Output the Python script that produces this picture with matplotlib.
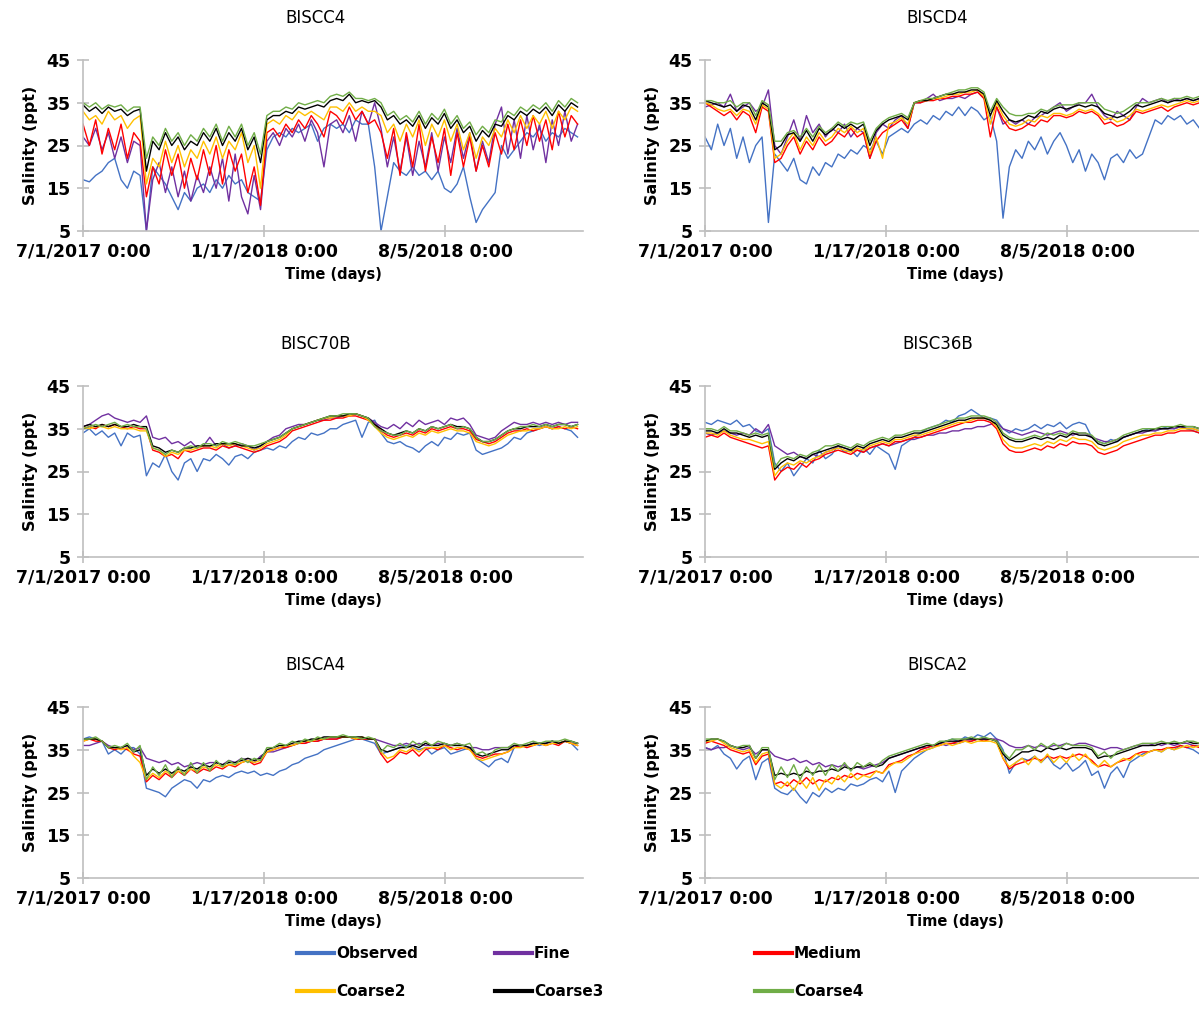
import matplotlib
matplotlib.use("Agg")
import matplotlib.pyplot as plt
from matplotlib.lines import Line2D

# days since 7/1/2017 0:00 (weekly samples)
days = [0, 7, 14, 21, 28, 35, 42, 49, 56, 63,
        70, 77, 84, 91, 98, 105, 112, 119, 126, 133,
        140, 147, 154, 161, 168, 175, 182, 189, 196, 203,
        210, 217, 224, 231, 238, 245, 252, 259, 266, 273,
        280, 287, 294, 301, 308, 315, 322, 329, 336, 343,
        350, 357, 364, 371, 378, 385, 392, 399, 406, 413,
        420, 427, 434, 441, 448, 455, 462, 469, 476, 483,
        490, 497, 504, 511, 518, 525, 532, 539, 546]

tick_days = [0, 200, 400]
tick_labels = ["7/1/2017 0:00", "1/17/2018 0:00", "8/5/2018 0:00"]

series_names = ["Observed", "Fine", "Medium", "Coarse2", "Coarse3", "Coarse4"]
colors = ["#4472C4", "#7030A0", "#FF0000", "#FFC000", "#000000", "#70AD47"]

# ---- BISCC4 ----
c4_obs = [17, 16.5, 18, 19, 21, 22, 17, 15, 19, 18,
          5, 20, 18, 16, 13, 10, 14, 12, 15, 16,
          14, 17, 15, 18, 16, 17, 14, 13, 12, 24,
          27, 28, 27, 29, 28, 29, 30, 26, 29, 30,
          29, 30, 28, 31, 30, 30, 20, 5, 13, 21,
          19, 18, 20, 18, 19, 17, 19, 15, 14, 16,
          20, 13, 7, 10, 12, 14, 25, 22, 24, 26,
          28, 27, 29, 26, 28, 27, 29, 28, 27]
c4_fine = [27, 25, 29, 24, 28, 22, 27, 21, 26, 25,
           5, 17, 21, 14, 20, 13, 19, 12, 18, 14,
           20, 15, 22, 12, 23, 13, 9, 18, 10, 26,
           28, 25, 29, 27, 30, 26, 31, 28, 20, 30,
           31, 28, 32, 26, 33, 30, 35, 29, 20, 27,
           19, 27, 18, 26, 20, 28, 19, 27, 21, 29,
           22, 28, 19, 26, 21, 30, 34, 23, 31, 22,
           32, 24, 30, 21, 31, 25, 33, 26, 30]
c4_med = [30, 25, 31, 23, 29, 24, 30, 22, 28, 26,
          13, 20, 16, 24, 18, 23, 15, 22, 17, 24,
          18, 25, 16, 24, 19, 23, 14, 20, 11, 28,
          29, 27, 30, 28, 31, 29, 32, 30, 27, 33,
          32, 30, 34, 31, 33, 30, 31, 28, 22, 29,
          18, 28, 20, 30, 19, 27, 21, 29, 18, 28,
          20, 27, 19, 25, 20, 28, 23, 30, 24, 31,
          25, 32, 26, 31, 24, 33, 27, 32, 30]
c4_c2 = [33, 31, 32, 30, 33, 31, 32, 29, 31, 32,
         16, 22, 20, 26, 21, 25, 20, 24, 22, 26,
         23, 27, 22, 26, 24, 28, 21, 25, 15, 30,
         31, 30, 32, 31, 33, 32, 33, 32, 31, 34,
         34, 33, 35, 33, 34, 33, 33, 32, 28, 30,
         26, 30, 27, 31, 25, 30, 27, 31, 26, 30,
         24, 28, 22, 27, 25, 29, 27, 31, 28, 32,
         29, 32, 30, 33, 29, 33, 31, 34, 33]
c4_c3 = [34.5, 33, 34, 32.5, 34, 33, 33.5, 32, 33, 33.5,
         19, 26, 24, 28, 25, 27, 24, 26, 25, 28,
         26, 29, 25, 28, 26, 29, 24, 27, 21, 31,
         32, 32, 33, 32.5, 34, 33.5, 34, 34.5, 34, 35.5,
         36, 35.5, 37, 35, 35.5, 35, 35.5, 34, 31, 32,
         30, 31, 29.5, 32, 29, 31.5, 30, 32.5, 29, 31,
         28, 29.5, 26, 28.5, 27, 30, 29.5, 32, 31, 33,
         32, 33.5, 32.5, 34, 32, 34.5, 33, 35, 34]
c4_c4 = [35, 34, 35, 33.5, 34.5, 34, 34.5, 33, 34, 34,
         22, 27, 25, 29, 26, 28, 25, 27.5, 26, 29,
         27, 30, 26, 29.5, 27, 30, 25, 28, 23, 32,
         33, 33, 34, 33.5, 35, 34.5, 35, 35.5, 35, 36.5,
         37, 36.5, 37.5, 36, 36, 35.5, 36, 35, 32, 33,
         31, 32, 30.5, 33, 30, 32.5, 31, 33.5, 30, 32,
         29, 30.5, 27.5, 29.5, 28, 31, 30.5, 33, 32, 34,
         33, 34.5, 33.5, 35, 33, 35.5, 34, 36, 35]

# ---- BISCD4 ----
d4_obs = [27, 24, 30, 25, 29, 22, 27, 21, 25, 27,
          7, 23, 21, 19, 22, 17, 16, 20, 18, 21,
          20, 23, 22, 24, 23, 25, 24, 26, 23, 27,
          28, 29, 28, 30, 31, 30, 32, 31, 33, 32,
          34, 32, 34, 33, 31, 32, 26, 8, 20, 24,
          22, 26, 24, 27, 23, 26, 28, 25, 21, 24,
          19, 23, 21, 17, 22, 23, 21, 24, 22, 23,
          27, 31, 30, 32, 31, 32, 30, 31, 29]
d4_fine = [34, 34.5, 35, 34, 37, 33, 34, 35, 33, 34,
           38, 25, 23, 27, 31, 26, 32, 28, 30, 27,
           29, 28, 30, 27, 29, 28, 22, 28, 30, 29,
           31, 32, 29, 35, 35, 36, 37, 35.5, 36, 36,
           36.5, 36, 37, 37.5, 36, 33, 34, 30, 31, 30,
           31, 30, 31.5, 32, 33, 34, 35, 33, 34, 35,
           35, 37, 34, 32, 31, 33, 32, 31, 34, 36,
           35, 35.5, 36, 35, 36, 35.5, 36, 35.5, 36]
d4_med = [35, 34, 33, 32, 33, 31, 33, 32, 28, 34,
          33, 21, 22, 25, 27, 23, 26, 24, 27, 25,
          26, 28, 27, 29, 27, 28, 22, 26, 28, 29,
          30, 31, 29, 35, 35, 35.5, 35.5, 36, 36, 36.5,
          36.5, 37, 37, 37.5, 36, 27, 34, 31, 29, 28.5,
          29, 30, 29.5, 31, 30.5, 32, 32, 31.5, 32, 33,
          32.5, 33, 32, 30, 30.5, 29.5, 30, 31, 33, 32.5,
          33, 33.5, 34, 33, 34, 34.5, 35, 34.5, 35]
d4_c2 = [35, 34.5, 33.5, 33, 33.5, 32, 33.5, 33, 30, 34.5,
         33.5, 22, 23, 26, 28, 24, 27, 25, 28, 26,
         27, 29, 28, 29.5, 28, 29, 23, 27, 22, 30,
         30.5, 31.5, 30, 35, 35.5, 35.5, 36, 36, 36.5, 37,
         37, 37.5, 37.5, 38, 36.5, 30, 35, 32, 30, 29.5,
         30, 31, 30.5, 32, 31.5, 32.5, 32.5, 32, 32.5, 33.5,
         33, 33.5, 32.5, 31, 31.5, 30.5, 31, 32, 33.5, 33,
         33.5, 34, 34.5, 34, 34.5, 35, 35.5, 35, 35.5]
d4_c3 = [35.5, 35, 34.5, 34, 34.5, 33, 34.5, 34, 31, 35,
         34, 24, 25, 27.5, 28, 26, 28.5, 26, 29, 27.5,
         28.5, 30, 29, 30, 29, 30, 25, 28.5, 30, 31,
         31.5, 32, 31, 35, 35.5, 35.5, 36, 36.5, 37, 37,
         37.5, 37.5, 38, 38, 37, 32, 35.5, 33, 31, 30.5,
         31, 32, 31.5, 33, 32.5, 33.5, 34, 33.5, 34, 34.5,
         34, 34.5, 34, 32.5, 32, 31.5, 32, 33, 34.5, 34,
         34.5, 35, 35.5, 35, 35.5, 35.5, 36, 35.5, 36]
d4_c4 = [35.5, 35.5, 35, 35, 35.5, 34, 35, 35, 32, 35.5,
         34.5, 26, 26, 28, 28.5, 27, 29, 27, 29.5, 28,
         29, 30.5, 29.5, 30.5, 30, 30.5, 26, 29, 30.5, 31.5,
         32, 32.5, 31.5, 35, 35.5, 36, 36, 36.5, 37, 37.5,
         38, 38, 38.5, 38.5, 37.5, 33, 36, 34, 32.5, 32,
         32, 32.5, 32.5, 33.5, 33, 34, 34.5, 34.5, 34.5, 35,
         35, 35, 35, 33.5, 33, 32.5, 33, 34, 35, 35,
         35, 35.5, 36, 35.5, 36, 36, 36.5, 36, 36.5]

# ---- BISC70B ----
b70_obs = [34, 35, 33.5, 34.5, 33, 34, 31, 34, 33, 33.5,
           24, 27, 26, 29, 25, 23, 27, 28, 25, 28,
           27.5, 29, 28, 26.5, 28.5, 29, 28, 29.5, 30, 30.5,
           30, 31, 30.5, 32, 33, 32.5, 34, 33.5, 34, 35,
           35, 36, 36.5, 37, 33, 36.5, 37, 34, 32, 31.5,
           32, 31, 30.5, 29.5, 31, 32, 31, 33, 32.5, 34,
           33.5, 34, 30, 29, 29.5, 30, 30.5, 31.5, 33, 32.5,
           34, 34.5, 35, 35.5, 35, 35.5, 35, 34.5, 33]
b70_fine = [35.5, 36, 37, 38, 38.5, 37.5, 37, 36.5, 37, 36.5,
            38, 33, 32.5, 33, 31.5, 32, 31, 32, 30.5, 31,
            33, 31, 31.5, 30.5, 31, 31.5, 31, 30, 31, 32,
            33, 33.5, 35, 35.5, 36, 36, 36.5, 37, 37, 37.5,
            37.5, 38, 38, 38.5, 38, 37.5, 36.5, 35.5, 35, 36,
            35, 36.5, 35.5, 37, 36, 36.5, 37, 36, 37.5, 37,
            37.5, 36, 33.5, 33, 32.5, 33, 34.5, 35.5, 36.5, 36,
            36, 36.5, 36, 36.5, 36, 36.5, 36, 36.5, 36.5]
b70_med = [35, 35.5, 35, 36, 35.5, 36, 35.5, 35, 35.5, 35,
           35, 30, 29.5, 28.5, 29, 28, 30, 29.5, 30, 30.5,
           30.5, 30, 31, 30.5, 31, 30.5, 30, 29.5, 30, 31,
           31.5, 32, 33, 34.5, 35, 35.5, 36, 36.5, 37, 37,
           37.5, 37.5, 38, 38, 37.5, 37, 36, 34.5, 33.5, 33,
           33.5, 34, 33.5, 34.5, 34, 35, 34.5, 35, 35.5, 35,
           35, 34.5, 32.5, 32, 31.5, 32, 33, 34, 34.5, 34.5,
           35, 34.5, 35, 35.5, 35, 35.5, 35, 35.5, 35]
b70_c2 = [35.5, 35, 35.5, 35.5, 35, 35.5, 35, 35, 35, 34.5,
          34.5, 30.5, 30, 28.5, 29.5, 29, 30, 30, 30.5, 31,
          31, 30.5, 31.5, 31, 31.5, 31, 30.5, 30, 30.5, 31.5,
          32, 32.5, 33.5, 35, 35.5, 36, 36.5, 37, 37.5, 37.5,
          38, 38, 38, 38.5, 38, 37, 35.5, 34, 33, 32.5,
          33, 33.5, 33, 34, 33.5, 34.5, 34, 34.5, 35, 34.5,
          34.5, 34, 32, 31.5, 31, 31.5, 32.5, 33.5, 34, 34.5,
          34.5, 35, 35, 35.5, 35, 35, 35.5, 35, 35.5]
b70_c3 = [35.5, 36, 35.5, 36, 35.5, 36, 35.5, 35.5, 36, 35.5,
          35.5, 31, 30.5, 29.5, 30, 29.5, 30.5, 30.5, 31, 31,
          31, 31.5, 31.5, 31.5, 31.5, 31, 31, 30.5, 31, 32,
          32.5, 33, 34, 35, 35.5, 36, 36.5, 37, 37.5, 38,
          38, 38, 38.5, 38.5, 38, 37.5, 36, 35, 34, 33.5,
          34, 34.5, 34, 35, 34.5, 35.5, 35, 35.5, 36, 35.5,
          35.5, 35, 33, 32, 32, 32.5, 33.5, 34.5, 35, 35,
          35.5, 35.5, 35.5, 36, 35.5, 36, 36, 35.5, 36]
b70_c4 = [35, 35.5, 36, 35.5, 36, 36.5, 35.5, 36, 35.5, 35.5,
          35, 30.5, 30, 29, 30, 29.5, 30.5, 31, 30.5, 31.5,
          31.5, 31, 32, 31.5, 32, 31.5, 31, 31, 31.5, 32,
          32.5, 33, 34, 35, 35.5, 36, 36.5, 37, 37.5, 38,
          38, 38.5, 38.5, 38.5, 38, 37.5, 35.5, 34.5, 34, 33.5,
          33.5, 34.5, 34, 35, 34.5, 35.5, 35, 35.5, 36, 35,
          35.5, 35, 33, 32, 32, 32.5, 33.5, 34.5, 35, 35.5,
          35.5, 36, 35.5, 36, 35.5, 36, 36, 35.5, 36]

# ---- BISC36B ----
b36_obs = [36.5, 36, 37, 36.5, 36, 37, 35.5, 36, 34.5, 34,
           35, 27, 25, 27, 24, 26, 28, 27, 30, 28,
           29, 31, 29.5, 30, 28.5, 30.5, 29, 31, 30, 29,
           25.5, 31, 32, 33, 34, 35, 35.5, 36, 37, 36.5,
           38, 38.5, 39.5, 38.5, 37.5, 37.5, 37, 35, 34, 35,
           34.5, 35, 36, 35, 36, 35.5, 36.5, 35, 36, 36.5,
           36, 33, 32, 31.5, 32.5, 32, 33, 33.5, 34, 34.5,
           35, 34.5, 35, 35.5, 35, 35.5, 35, 34.5, 34]
b36_fine = [34, 33.5, 34, 34.5, 34, 33.5, 34, 33.5, 35, 34,
            36, 31, 30, 29, 29.5, 28.5, 28, 29, 28.5, 29.5,
            30, 31, 30.5, 30, 30, 29.5, 30.5, 31, 31.5, 31,
            31.5, 32, 32.5, 32.5, 33, 33.5, 33.5, 34, 34, 34.5,
            34.5, 35, 35, 35.5, 35.5, 36, 36.5, 35, 34.5, 34,
            33.5, 34, 34.5, 34, 33.5, 34, 34.5, 34, 33.5, 34,
            34, 33, 32.5, 32, 32, 32.5, 33, 33.5, 34, 34,
            34.5, 34.5, 35, 35, 35, 35.5, 35, 35, 34.5]
b36_med = [33, 33.5, 33, 34, 33, 32.5, 32, 31.5, 31, 30.5,
           31, 23, 25, 26, 25.5, 27, 26, 27.5, 28, 29,
           29.5, 30, 29.5, 29, 30, 29.5, 30.5, 31, 31.5, 31,
           32, 32, 32.5, 33, 33, 33.5, 34, 34.5, 35, 35.5,
           36, 36.5, 36.5, 37, 37, 36.5, 35, 31.5, 30, 29.5,
           29.5, 30, 30.5, 30, 31, 30.5, 31.5, 31, 32, 31.5,
           31.5, 31, 29.5, 29, 29.5, 30, 31, 31.5, 32, 32.5,
           33, 33.5, 33.5, 34, 34, 34.5, 34.5, 34.5, 34]
b36_c2 = [34, 34, 33.5, 34.5, 33.5, 33, 32.5, 32.5, 32, 31.5,
          32, 24, 26, 27, 26.5, 27.5, 27, 28, 28.5, 29.5,
          30, 30.5, 30, 29.5, 30.5, 30, 31, 31.5, 32, 31.5,
          32.5, 32.5, 33, 33.5, 33.5, 34, 34.5, 35, 35.5, 36,
          36.5, 36.5, 37, 37.5, 37.5, 37, 35.5, 32.5, 31, 30.5,
          30.5, 31, 31.5, 31, 32, 31.5, 32.5, 32, 33, 32.5,
          32.5, 32, 30.5, 30, 30.5, 31, 32, 32.5, 33, 33.5,
          33.5, 34, 34, 34.5, 34.5, 35, 35, 35, 34.5]
b36_c3 = [34.5, 34.5, 34, 35, 34, 34, 33.5, 33, 33.5, 33,
          33.5, 25.5, 27, 28, 27.5, 28.5, 28, 29, 29.5, 30,
          30.5, 31, 30.5, 30, 31, 30.5, 31.5, 32, 32.5, 32,
          33, 33, 33.5, 34, 34, 34.5, 35, 35.5, 36, 36.5,
          37, 37, 37.5, 37.5, 37.5, 37, 36, 33.5, 32.5, 32,
          32, 32.5, 33, 32.5, 33, 32.5, 33.5, 33, 34, 33.5,
          33.5, 33, 31.5, 31, 31.5, 32, 33, 33.5, 34, 34.5,
          34.5, 35, 35, 35, 35.5, 35.5, 35.5, 35.5, 35]
b36_c4 = [35, 35, 34.5, 35.5, 34.5, 34.5, 34, 33.5, 34, 33.5,
          34, 26, 28, 28.5, 28, 29, 28.5, 29.5, 30, 31,
          31, 31.5, 31, 30.5, 31.5, 31, 32, 32.5, 33, 32.5,
          33.5, 33.5, 34, 34.5, 34.5, 35, 35.5, 36, 36.5, 37,
          37.5, 37.5, 38, 38, 38, 37.5, 36.5, 34, 33, 32.5,
          32.5, 33, 33.5, 33, 34, 33.5, 34, 33.5, 34.5, 34,
          34, 33.5, 32, 31.5, 32, 32.5, 33.5, 34, 34.5, 35,
          35, 35, 35.5, 35.5, 35.5, 36, 35.5, 35.5, 35]

# ---- BISCA4 ----
a4_obs = [37.5, 38, 37.5, 37, 34, 35, 34, 35.5, 35.5, 34,
          26, 25.5, 25, 24, 26, 27, 28, 27.5, 26, 28,
          27.5, 28.5, 29, 28.5, 29.5, 30, 29.5, 30, 29, 29.5,
          29, 30, 30.5, 31.5, 32, 33, 33.5, 34, 35, 35.5,
          36, 36.5, 37, 37.5, 37.5, 37, 36.5, 34, 34.5, 35,
          35.5, 36, 35.5, 35, 35.5, 34, 35, 35.5, 34, 34.5,
          35, 35.5, 33, 32, 31, 32.5, 33, 32, 35.5, 36,
          36, 36.5, 36, 36.5, 37, 36.5, 37, 36.5, 35]
a4_fine = [36, 36, 36.5, 37, 36, 35.5, 35.5, 36, 35, 35.5,
           33, 32.5, 32, 32.5, 31.5, 32, 31, 31.5, 32, 31.5,
           32, 32, 31.5, 32.5, 32, 33, 32.5, 32, 33.5, 34.5,
           34.5, 35, 35.5, 36, 36.5, 36.5, 37, 37, 37.5, 37.5,
           37.5, 38, 38, 37.5, 37.5, 37.5, 37.5, 37, 36.5, 36,
           36, 36.5, 36, 36.5, 36, 36, 36.5, 36, 36, 36.5,
           36, 35.5, 35.5, 35, 35, 35.5, 35.5, 35.5, 36, 36,
           36, 36.5, 36.5, 36.5, 37, 36.5, 37, 36.5, 36.5]
a4_med = [37, 37.5, 37, 37, 35.5, 35, 35.5, 35, 34, 33.5,
          27.5, 29, 28, 29.5, 28.5, 30, 29, 30.5, 29.5, 30.5,
          30, 31, 30.5, 31.5, 31, 32, 32.5, 31.5, 32, 34.5,
          35, 35.5, 35.5, 36, 36.5, 36.5, 37, 37, 37.5, 37.5,
          37.5, 38, 38, 37.5, 37.5, 37.5, 37.5, 34, 32, 33,
          34.5, 34, 35, 33.5, 35, 35.5, 35, 36, 35.5, 35,
          35.5, 35, 33.5, 33, 33.5, 34, 34, 34.5, 35.5, 36,
          35.5, 36, 36.5, 36, 36.5, 36, 37, 36.5, 36]
a4_c2 = [37, 37.5, 37.5, 37, 35.5, 35.5, 35, 35.5, 33.5, 32,
         28, 29.5, 28.5, 30, 29, 30, 29.5, 30.5, 30, 31,
         30.5, 31.5, 31, 31.5, 31.5, 32, 32.5, 32, 32.5, 34.5,
         35, 35.5, 36, 36, 36.5, 37, 37, 37.5, 37.5, 38,
         38, 38, 38, 37.5, 38, 37.5, 37.5, 34.5, 33, 33.5,
         35, 34.5, 35.5, 34.5, 35.5, 35.5, 35.5, 36, 35, 35.5,
         35.5, 35, 33, 32.5, 33, 33.5, 34, 34.5, 35.5, 35.5,
         36, 36, 36.5, 36, 36.5, 36.5, 37, 36.5, 36]
a4_c3 = [37.5, 37.5, 37.5, 37, 35.5, 35.5, 35.5, 36, 34.5, 35,
         29, 30.5, 29.5, 30.5, 29.5, 30.5, 30, 31, 30.5, 31.5,
         31, 32, 31.5, 32, 32, 32.5, 33, 32.5, 33, 35,
         35.5, 36, 36, 36.5, 37, 37, 37.5, 37.5, 38, 38,
         38, 38, 38, 38, 38, 37.5, 37.5, 35, 34.5, 35,
         35.5, 35.5, 36, 35.5, 36.5, 36, 36, 36.5, 36, 36,
         36, 35.5, 34, 33.5, 34, 34.5, 35, 35, 36, 36,
         36, 36.5, 36.5, 36.5, 37, 36.5, 37, 37, 36.5]
a4_c4 = [37.5, 37.5, 38, 37, 35.5, 36, 35.5, 36.5, 34.5, 36,
         28, 31, 29, 31.5, 28.5, 31, 29, 32, 29.5, 32,
         30, 32.5, 31, 32.5, 31.5, 33, 32, 33, 32.5, 35.5,
         35.5, 36.5, 36, 37, 36.5, 37.5, 37, 38, 37.5, 38,
         38, 38.5, 38, 38, 37.5, 38, 37.5, 34.5, 36, 35.5,
         36.5, 35.5, 37, 36, 37, 36, 37, 36.5, 36, 36.5,
         36, 36.5, 34, 34.5, 33.5, 35, 35.5, 35.5, 36.5, 36,
         36.5, 37, 36.5, 37, 37, 37, 37.5, 37, 36.5]

# ---- BISCA2 ----
a2_obs = [35.5, 35, 36, 34, 33, 30.5, 32.5, 33.5, 28, 32,
          33, 26, 25, 24.5, 26, 24, 22.5, 25, 24, 26,
          25, 26, 25.5, 27, 26.5, 27, 28, 28.5, 27.5, 30,
          25, 30, 31.5, 33, 34, 35, 35.5, 36.5, 37, 37.5,
          37, 38, 37.5, 38.5, 38, 39, 37.5, 35, 29.5, 32,
          33, 32.5, 33.5, 32, 33.5, 31.5, 30.5, 32, 30, 31,
          32.5, 29, 30, 26, 29.5, 31, 28.5, 32, 33, 34,
          34.5, 35, 34.5, 35.5, 35, 36, 35.5, 35, 34]
a2_fine = [35.5, 35, 35.5, 35.5, 36, 35.5, 35, 35.5, 34, 35,
           35, 33.5, 33, 32.5, 33, 32, 32.5, 31.5, 32, 31,
           31.5, 31, 31.5, 30.5, 31, 30.5, 31, 31.5, 32, 33,
           33.5, 34, 34.5, 35, 35.5, 35.5, 36, 36.5, 36, 36.5,
           36.5, 37, 37, 37.5, 37.5, 37.5, 37.5, 37, 36, 35.5,
           35.5, 36, 35.5, 36, 35.5, 36, 36, 36.5, 36, 36.5,
           36.5, 36, 35.5, 35, 35.5, 35.5, 35, 35.5, 36, 36,
           36, 36.5, 36, 36.5, 36, 36.5, 36.5, 36, 36]
a2_med = [36.5, 37, 36.5, 36, 35, 34.5, 34, 34.5, 31.5, 33.5,
          34, 27, 27.5, 26.5, 28, 27, 28.5, 27, 28, 27.5,
          28.5, 28, 29, 28.5, 29.5, 29, 29.5, 30, 29.5, 31.5,
          32, 32.5, 33.5, 34, 35, 35.5, 36, 36, 36.5, 36.5,
          37, 37, 37, 37.5, 37, 37.5, 37, 33, 30.5, 31.5,
          32, 32.5, 33, 32.5, 33.5, 33, 33.5, 33, 33.5, 34,
          33.5, 32.5, 31, 31.5, 31, 32, 32.5, 33, 34, 34.5,
          34.5, 35, 35, 35.5, 35.5, 36, 35.5, 36, 35.5]
a2_c2 = [37, 37, 37.5, 36.5, 35.5, 35, 34.5, 35, 32, 34,
         34.5, 27, 26, 27.5, 25.5, 28, 26, 28.5, 25.5, 28,
         27, 29, 27.5, 29.5, 28, 29, 28.5, 30, 29.5, 31,
         32, 32, 33, 34, 34.5, 35, 35.5, 36, 36.5, 36,
         36.5, 37, 36.5, 37, 37, 37, 36.5, 33, 31, 32,
         33, 31.5, 33.5, 32, 34, 32, 33.5, 32, 34, 32.5,
         34, 32, 31, 32.5, 31, 32, 33, 32.5, 34, 33.5,
         34.5, 35, 34.5, 35.5, 35, 35.5, 36, 35.5, 36]
a2_c3 = [37, 37.5, 37.5, 37, 36, 35.5, 35.5, 36, 33, 35,
         35, 29, 29.5, 29, 29.5, 29, 30, 29.5, 30, 30,
         30.5, 30, 31, 30.5, 31, 31, 31.5, 31, 31.5, 33,
         33.5, 34, 34.5, 35, 35.5, 36, 36, 36.5, 37, 37,
         37, 37.5, 37.5, 37.5, 37.5, 37.5, 37, 34, 32.5, 33.5,
         34.5, 34.5, 35, 34.5, 35.5, 35, 35.5, 35, 35.5, 35.5,
         35.5, 35, 33, 33.5, 33.5, 34, 34.5, 35, 35.5, 36,
         36, 36, 36.5, 36.5, 36.5, 36.5, 37, 36.5, 36.5]
a2_c4 = [37.5, 37.5, 37.5, 37, 36, 35.5, 36, 36, 33, 35.5,
         35.5, 28, 31, 28.5, 31.5, 28, 31, 29, 31.5, 29,
         31.5, 30, 32, 30, 32, 31, 32, 31, 32.5, 33.5,
         34, 34.5, 35, 35.5, 36, 36.5, 36, 37, 37, 37.5,
         37.5, 37.5, 38, 37.5, 38, 37.5, 37, 34.5, 33, 35,
         35, 36, 35, 36.5, 35.5, 36.5, 35.5, 36.5, 36, 36,
         36, 35.5, 33.5, 34.5, 33, 34.5, 35, 35.5, 36, 36.5,
         36.5, 36.5, 37, 36.5, 37, 36.5, 37, 37, 36.5]

stations = [
    ("BISCC4", [c4_obs, c4_fine, c4_med, c4_c2, c4_c3, c4_c4]),
    ("BISCD4", [d4_obs, d4_fine, d4_med, d4_c2, d4_c3, d4_c4]),
    ("BISC70B", [b70_obs, b70_fine, b70_med, b70_c2, b70_c3, b70_c4]),
    ("BISC36B", [b36_obs, b36_fine, b36_med, b36_c2, b36_c3, b36_c4]),
    ("BISCA4", [a4_obs, a4_fine, a4_med, a4_c2, a4_c3, a4_c4]),
    ("BISCA2", [a2_obs, a2_fine, a2_med, a2_c2, a2_c3, a2_c4]),
]

W, H = 1199, 1030
fig = plt.figure(figsize=(W / 100, H / 100), dpi=100)
plt.rcParams['font.family'] = ['DejaVu Sans']

grey = "#BFBFBF"
col_left = [83, 705]
row_top = [60, 386, 707]
ax_w, ax_h = 500, 171

for k, (name, vals) in enumerate(stations):
    r, c = k // 2, k % 2
    x0 = col_left[c] / W
    y0 = 1 - (row_top[r] + ax_h) / H
    ax = fig.add_axes([x0, y0, ax_w / W, ax_h / H])
    for v, lab, col in zip(vals, series_names, colors):
        n = min(len(days), len(v))
        ax.plot(days[:n], v[:n], color=col, lw=1.0, label=lab)
    ax.set_xlim(0, 552)
    ax.set_ylim(5, 45)
    ax.set_yticks([5, 15, 25, 35, 45])
    ax.set_xticks(tick_days)
    ax.set_xticklabels(tick_labels)
    for s in ["top", "right"]:
        ax.spines[s].set_visible(False)
    for s in ["left", "bottom"]:
        ax.spines[s].set_color(grey)
        ax.spines[s].set_linewidth(1.2)
    ax.tick_params(axis="both", colors=grey, direction="inout", length=8, width=1.2,
                   labelcolor="black")
    ax.tick_params(axis="x", pad=4)
    ax.tick_params(axis="y", pad=5)
    for t in ax.get_xticklabels() + ax.get_yticklabels():
        t.set_fontweight("bold")
        t.set_fontsize(12.5)
    ax.set_xlabel("Time (days)", fontsize=10.5, fontweight="bold", labelpad=5)
    ax.set_ylabel("Salinity (ppt)", fontsize=11.5, fontweight="bold", labelpad=6)
    ax.text(0.465, 1 + 42 / ax_h, name, transform=ax.transAxes, ha="center",
            va="center", fontsize=12)

# legend, three columns like the original
cols_x = [297, 495, 755]
groups = [(0, 3), (1, 4), (2, 5)]
for cx, (a, b) in zip(cols_x, groups):
    handles = [Line2D([], [], color=colors[a], lw=3),
               Line2D([], [], color=colors[b], lw=3)]
    leg = fig.legend(handles, [series_names[a], series_names[b]],
                     loc="center left", bbox_to_anchor=(cx / W, 1 - 972.5 / H),
                     frameon=False, borderpad=0, borderaxespad=0,
                     handlelength=2.4, handletextpad=0.15, labelspacing=1.5,
                     prop={"weight": "bold", "size": 11})

fig.savefig("out.png", dpi=100)
